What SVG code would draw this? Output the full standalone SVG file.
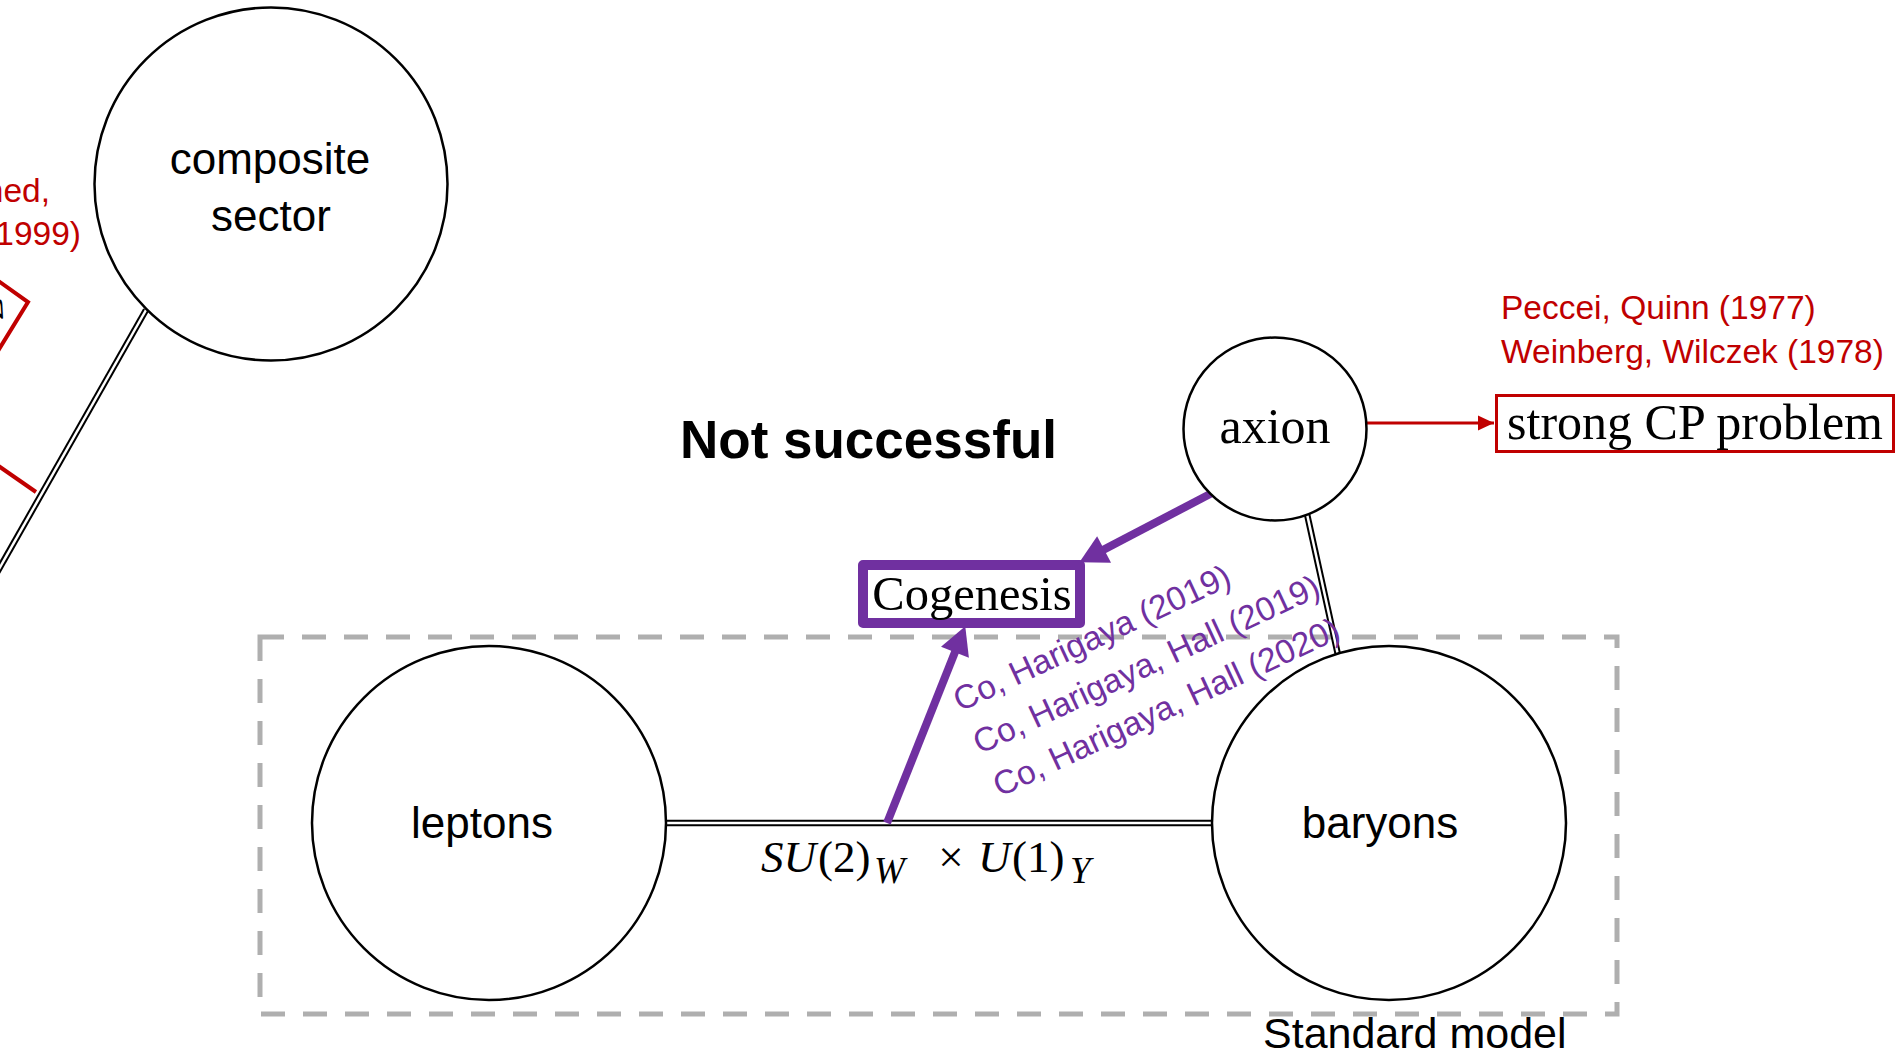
<svg xmlns="http://www.w3.org/2000/svg" width="1897" height="1059" viewBox="0 0 1897 1059">
<style>
.node{fill:#fff;stroke:#000;stroke-width:2.5}
.lbl{font-family:"Liberation Sans",Arial,sans-serif;font-size:44px;fill:#000;text-anchor:middle}
.ser{font-family:"Liberation Serif","Times New Roman",serif;fill:#000}
.ref{font-family:"Liberation Sans",Arial,sans-serif;font-size:33.5px;fill:#C00000}
.pref{font-family:"Liberation Sans",Arial,sans-serif;font-size:33.5px;fill:#7030A0}
.dbl-o{stroke:#000;stroke-width:6.5;fill:none}
.dbl-i{stroke:#fff;stroke-width:2.5;fill:none}
.red{stroke:#C00000;stroke-width:4;fill:none}
.purp{stroke:#7030A0;stroke-width:8;fill:none}
</style>
<defs>
<marker id="ahP" markerUnits="userSpaceOnUse" markerWidth="30" markerHeight="30" viewBox="0 0 26 28" refX="16" refY="14" orient="auto">
<path d="M0,0 L26,14 L0,28 z" fill="#7030A0"/>
</marker>
<marker id="ahR" markerUnits="userSpaceOnUse" markerWidth="16" markerHeight="16" viewBox="0 0 15 14" refX="15" refY="7" orient="auto">
<path d="M0,0 L15,7 L0,14 z" fill="#C00000"/>
</marker>
</defs>
<rect width="1897" height="1059" fill="#fff"/>

<g id="standard-model-box">
<rect x="260" y="637" width="1357" height="377" fill="none" stroke="#AFAFAF" stroke-width="5" stroke-dasharray="24 18"/>
<text class="lbl" x="1263" y="1048" style="text-anchor:start;font-size:43px">Standard model</text>
</g>

<g id="left-partial">
<text class="ref" x="50" y="202" text-anchor="end">ned,</text>
<text class="ref" x="81" y="245" text-anchor="end">1999)</text>
<polyline class="red" points="-20,268 28,302 -10,364"/>
<text class="ser" x="-3" y="322" font-size="36" font-style="italic" transform="rotate(-35 -3 322)">ν</text>
</g>

<g id="connectors">
<line class="dbl-o" x1="146" y1="310" x2="-5" y2="576"/>
<line class="dbl-i" x1="146" y1="310" x2="-5" y2="576"/>
<line class="red" x1="-10" y1="460" x2="36" y2="492"/>
<line class="dbl-o" x1="666" y1="823" x2="1212" y2="823"/>
<line class="dbl-i" x1="666" y1="823" x2="1212" y2="823"/>
<line class="dbl-o" x1="1307" y1="514" x2="1338" y2="655"/>
<line class="dbl-i" x1="1307" y1="514" x2="1338" y2="655"/>
<line stroke="#C00000" stroke-width="3" x1="1367" y1="423" x2="1494" y2="423" marker-end="url(#ahR)"/>
<line class="purp" x1="1212" y1="493" x2="1088.9" y2="557.4" marker-end="url(#ahP)"/>
<line class="purp" x1="887" y1="823" x2="961.3" y2="636.3" marker-end="url(#ahP)"/>
</g>

<g id="composite-sector">
<circle class="node" cx="271" cy="184" r="176.5"/>
<text class="lbl" x="270" y="174">composite</text>
<text class="lbl" x="271" y="231">sector</text>
</g>

<g id="axion">
<circle class="node" cx="1275" cy="429" r="91.5"/>
<text class="ser" x="1275" y="443" font-size="50" text-anchor="middle">axion</text>
</g>

<g id="strong-cp">
<rect x="1496.5" y="395.5" width="397" height="56" fill="#fff" stroke="#C00000" stroke-width="3"/>
<text class="ser" x="1695" y="439" font-size="50" text-anchor="middle">strong CP problem</text>
<text class="ref" x="1501" y="319">Peccei, Quinn (1977)</text>
<text class="ref" x="1501" y="363">Weinberg, Wilczek (1978)</text>
</g>

<g id="not-successful">
<text x="680" y="458" font-family="'Liberation Sans',Arial,sans-serif" font-weight="bold" font-size="53">Not successful</text>
</g>

<g id="cogenesis">
<rect x="863" y="565" width="217" height="58" fill="#fff" stroke="#7030A0" stroke-width="10" stroke-linejoin="round"/>
<text class="ser" x="972" y="610" font-size="48.5" text-anchor="middle">Cogenesis</text>
</g>

<g id="cogenesis-refs" transform="rotate(-25 960 712)">
<text class="pref" x="960" y="712">Co, Harigaya (2019)</text>
<text class="pref" x="960" y="759">Co, Harigaya, Hall (2019)</text>
<text class="pref" x="960" y="806">Co, Harigaya, Hall (2020)</text>
</g>

<g id="leptons">
<circle class="node" cx="489" cy="823" r="177"/>
<text class="lbl" x="482" y="838">leptons</text>
</g>

<g id="baryons">
<circle class="node" cx="1389" cy="823" r="177"/>
<text class="lbl" x="1380" y="838">baryons</text>
</g>

<g id="gauge-label" class="ser" font-size="45">
<text x="761" y="872" font-style="italic">SU</text>
<text x="818" y="872">(2)</text>
<text x="874" y="883" font-size="37" font-style="italic">W</text>
<text x="951" y="872" text-anchor="middle">×</text>
<text x="978" y="872" font-style="italic">U</text>
<text x="1012" y="872">(1)</text>
<text x="1070" y="883" font-size="37" font-style="italic">Y</text>
</g>
</svg>
